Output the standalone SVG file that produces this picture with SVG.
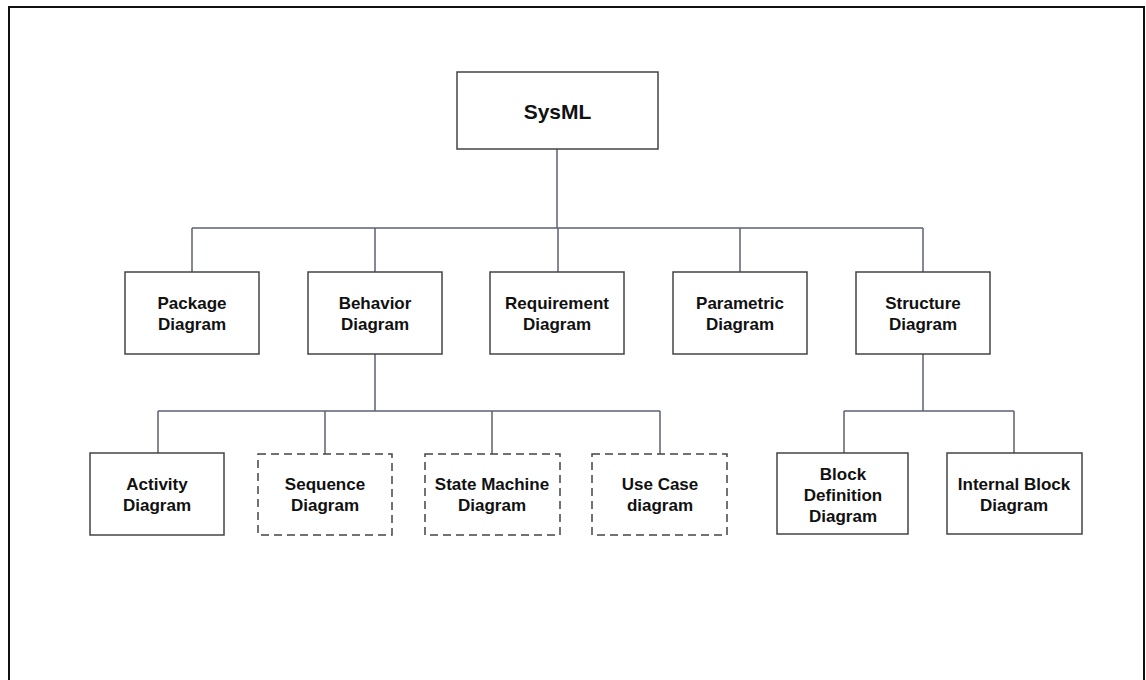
<svg xmlns="http://www.w3.org/2000/svg" width="1146" height="680" viewBox="0 0 1146 680">
  <style>
    .box { fill: #ffffff; stroke: #444444; stroke-width: 1.5; }
    .dashed { stroke-dasharray: 8 5; }
    .conn { fill: none; stroke: #5c6272; stroke-width: 1.5; }
    .label { font-family: "Liberation Sans", Arial, sans-serif; font-weight: bold; font-size: 17px; fill: #111111; text-anchor: middle; }
    .title { font-size: 21px; }
  </style>

  <!-- page frame -->
  <rect x="9" y="7" width="1135" height="700" fill="#ffffff" stroke="#111111" stroke-width="2"/>

  <!-- connectors -->
  <g id="connectors">
    <path class="conn" d="M557,149 V228 M192,228 H923 M192,228 V272 M375,228 V272 M558,228 V272 M740,228 V272 M923,228 V272"/>
    <path class="conn" d="M375,354 V411 M158,411 H660 M158,411 V453 M325,411 V454 M492,411 V454 M660,411 V454"/>
    <path class="conn" d="M923,354 V411 M844,411 H1014 M844,411 V453 M1014,411 V453"/>
  </g>

  <g id="sysml">
    <rect class="box" x="457" y="72" width="201" height="77"/>
    <text class="label title" x="557.5" y="119">SysML</text>
  </g>

  <g id="package">
    <rect class="box" x="125" y="272" width="134" height="82"/>
    <text class="label" x="192" y="309">Package</text>
    <text class="label" x="192" y="330">Diagram</text>
  </g>
  <g id="behavior">
    <rect class="box" x="308" y="272" width="134" height="82"/>
    <text class="label" x="375" y="309">Behavior</text>
    <text class="label" x="375" y="330">Diagram</text>
  </g>
  <g id="requirement">
    <rect class="box" x="490" y="272" width="134" height="82"/>
    <text class="label" x="557" y="309">Requirement</text>
    <text class="label" x="557" y="330">Diagram</text>
  </g>
  <g id="parametric">
    <rect class="box" x="673" y="272" width="134" height="82"/>
    <text class="label" x="740" y="309">Parametric</text>
    <text class="label" x="740" y="330">Diagram</text>
  </g>
  <g id="structure">
    <rect class="box" x="856" y="272" width="134" height="82"/>
    <text class="label" x="923" y="309">Structure</text>
    <text class="label" x="923" y="330">Diagram</text>
  </g>

  <g id="activity">
    <rect class="box" x="90" y="453" width="134" height="82"/>
    <text class="label" x="157" y="490">Activity</text>
    <text class="label" x="157" y="511">Diagram</text>
  </g>
  <g id="sequence">
    <rect class="box dashed" x="258" y="454" width="134" height="81"/>
    <text class="label" x="325" y="490">Sequence</text>
    <text class="label" x="325" y="511">Diagram</text>
  </g>
  <g id="state-machine">
    <rect class="box dashed" x="425" y="454" width="135" height="81"/>
    <text class="label" x="492" y="490">State Machine</text>
    <text class="label" x="492" y="511">Diagram</text>
  </g>
  <g id="use-case">
    <rect class="box dashed" x="592" y="454" width="135" height="81"/>
    <text class="label" x="660" y="490">Use Case</text>
    <text class="label" x="660" y="511">diagram</text>
  </g>

  <g id="block-definition">
    <rect class="box" x="777" y="453" width="131" height="81"/>
    <text class="label" x="843" y="480">Block</text>
    <text class="label" x="843" y="501">Definition</text>
    <text class="label" x="843" y="522">Diagram</text>
  </g>
  <g id="internal-block">
    <rect class="box" x="947" y="453" width="135" height="81"/>
    <text class="label" x="1014" y="490">Internal Block</text>
    <text class="label" x="1014" y="511">Diagram</text>
  </g>
</svg>
